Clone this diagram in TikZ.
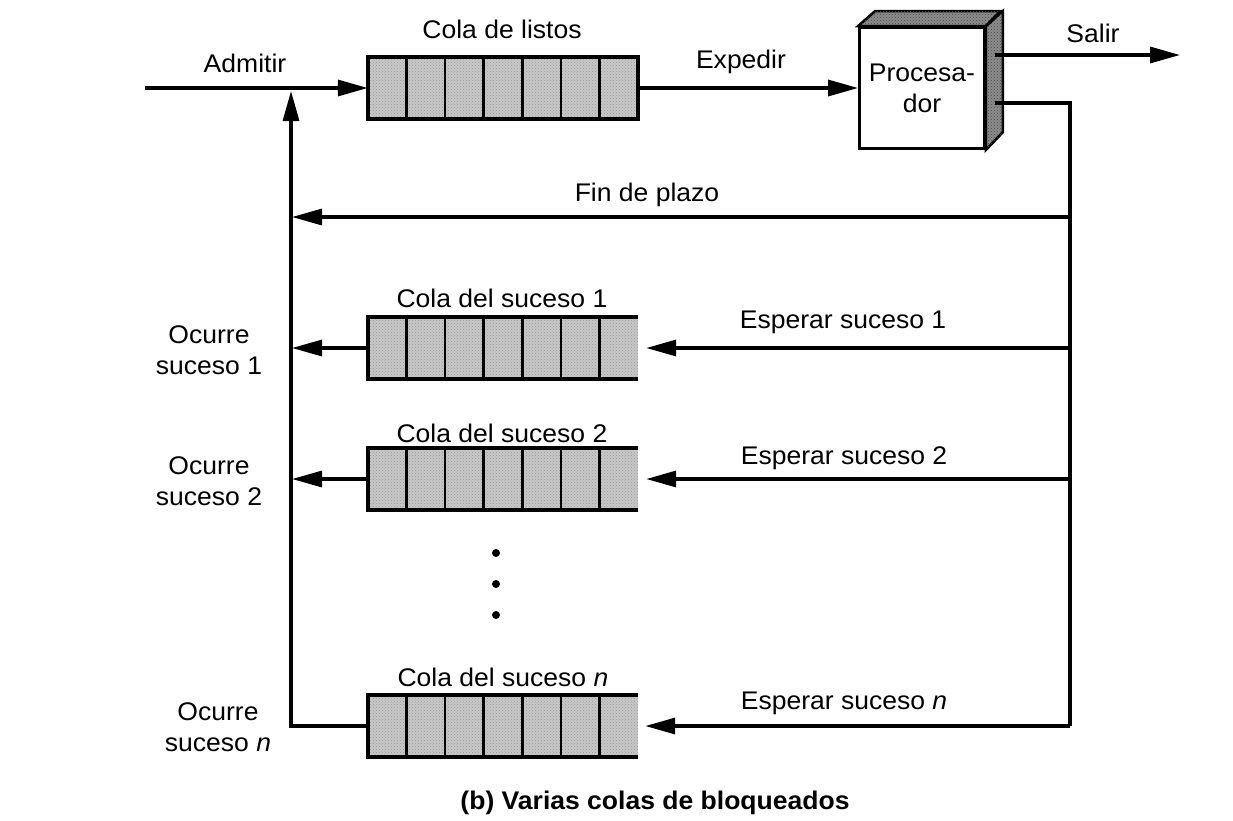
\documentclass[tikz,border=0pt]{standalone}
\usepackage{fontspec}
\setmainfont[FakeStretch=1.04]{Liberation Sans}
\usetikzlibrary{arrows.meta,patterns,calc}
\definecolor{qgray}{RGB}{200,200,200}
\definecolor{dgray}{RGB}{140,140,140}
\begin{document}
\begin{tikzpicture}[x=1pt,y=-1pt,
  lbl/.style={font=\fontsize{25.5}{31}\selectfont, inner sep=0pt, align=center},
  qnode/.style={minimum width=270pt, minimum height=61pt, inner sep=0pt,
     fill=qgray, postaction={pattern=crosshatch dots, pattern color=black!40}},
  qborder/.style={line width=3.8pt, line join=miter},
  cell/.style={line width=2.8pt},
  wire/.style={line width=3.2pt},
  arr/.style={line width=3.2pt, -{Triangle[length=30pt,width=16pt]}},
  face/.style={line width=2.6pt, line join=miter, fill=dgray,
     postaction={pattern=crosshatch dots, pattern color=black!70}}
]
\useasboundingbox[fill=white] (0,0) rectangle (1233,820);

% ---- queues ----
\node[qnode] (rq) at (503,88) {};
\node[qnode] (q1) at (503,348) {};
\node[qnode] (q2) at (503,479) {};
\node[qnode] (qn) at (503,726) {};
\draw[qborder] (rq.north west) rectangle (rq.south east);
\foreach \q in {q1,q2,qn}{
  \draw[qborder] (\q.north east) -- (\q.north west) -- (\q.south west) -- (\q.south east);
}
\foreach \q in {rq,q1,q2,qn}{
  \foreach \i in {1,...,6}{
    \draw[cell] ($(\q.north west)!\i/7!(\q.north east)$) -- ($(\q.south west)!\i/7!(\q.south east)$);
  }
}

% ---- processor ----
\node[draw, line width=2.8pt, fill=white, minimum width=125pt, minimum height=121pt,
      inner sep=0pt, lbl] (proc) at (922,88) {Procesa-\\dor};
\draw[face] (proc.north west) -- ++(17,-15) -- ++(125,0) -- (proc.north east) -- cycle;
\draw[face] (proc.north east) -- ++(17,-15) -- ++(0,121) -- (proc.south east) -- cycle;

% ---- coordinates ----
\coordinate (in) at (145,88);
\coordinate (vtop) at (291,91);
\coordinate (vbot) at (291,726);
\coordinate (sout) at (995,55);
\coordinate (exit) at (1180,55);
\coordinate (pf) at (995,103);
\coordinate (rtop) at (1070,103);
\coordinate (rbot) at (1070,726);
\coordinate (fp) at (1070,217);
\coordinate (fpend) at (292,217);
\coordinate (e1) at (1070,348);
\coordinate (e2) at (1070,479);
\coordinate (o1) at (292,348);
\coordinate (o2) at (292,479);

% ---- connectors ----
\draw[arr] (in) -- (rq.west);
\draw[arr] (rq.east) -- (proc.west);
\draw[arr] (sout) -- (exit);
\draw[wire] (pf) -- (rtop) -- (rbot);
\draw[arr] (fp) -- (fpend);
\draw[arr] (e1) -- ($(q1.east)+(8,0)$);
\draw[arr] (e2) -- ($(q2.east)+(8,0)$);
\draw[arr] (rbot) -- ($(qn.east)+(7,0)$);
\draw[arr] (q1.west) -- (o1);
\draw[arr] (q2.west) -- (o2);
\draw[arr] (qn.west) -- (vbot) -- (vtop);

% ---- dots ----
\foreach \y [count=\k] in {553,584,615}{
  \fill (496,\y) circle (4pt) coordinate (dot\k);
}

% ---- labels ----
\node[lbl] (lAdm) at (245,63) {Admitir};
\node[lbl] (lRq) at (502,29) {Cola de listos};
\node[lbl] (lExp) at (741,62) {Expedir};
\node[lbl] (lSal) at (1093,33) {Salir};
\node[lbl] (lFin) at (647,195) {Fin de plazo};
\node[lbl] (lQ1) at (502,298) {Cola del suceso 1};
\node[lbl] (lE1) at (843,322) {Esperar suceso 1};
\node[lbl] (lO1) at (209,350) {Ocurre\\suceso 1};
\node[lbl] (lQ2) at (502,433) {Cola del suceso 2};
\node[lbl] (lE2) at (844,458) {Esperar suceso 2};
\node[lbl] (lO2) at (209,481) {Ocurre\\suceso 2};
\node[lbl] (lQn) at (503,677) {Cola del suceso \textit{n}};
\node[lbl] (lEn) at (844,703) {Esperar suceso \textit{n}};
\node[lbl] (lOn) at (218,727) {Ocurre\\suceso \textit{n}};
\node[lbl, font=\bfseries\fontsize{25.5}{31}\selectfont] (cap) at (655,803) {(b) Varias colas de bloqueados};
\end{tikzpicture}
\end{document}
